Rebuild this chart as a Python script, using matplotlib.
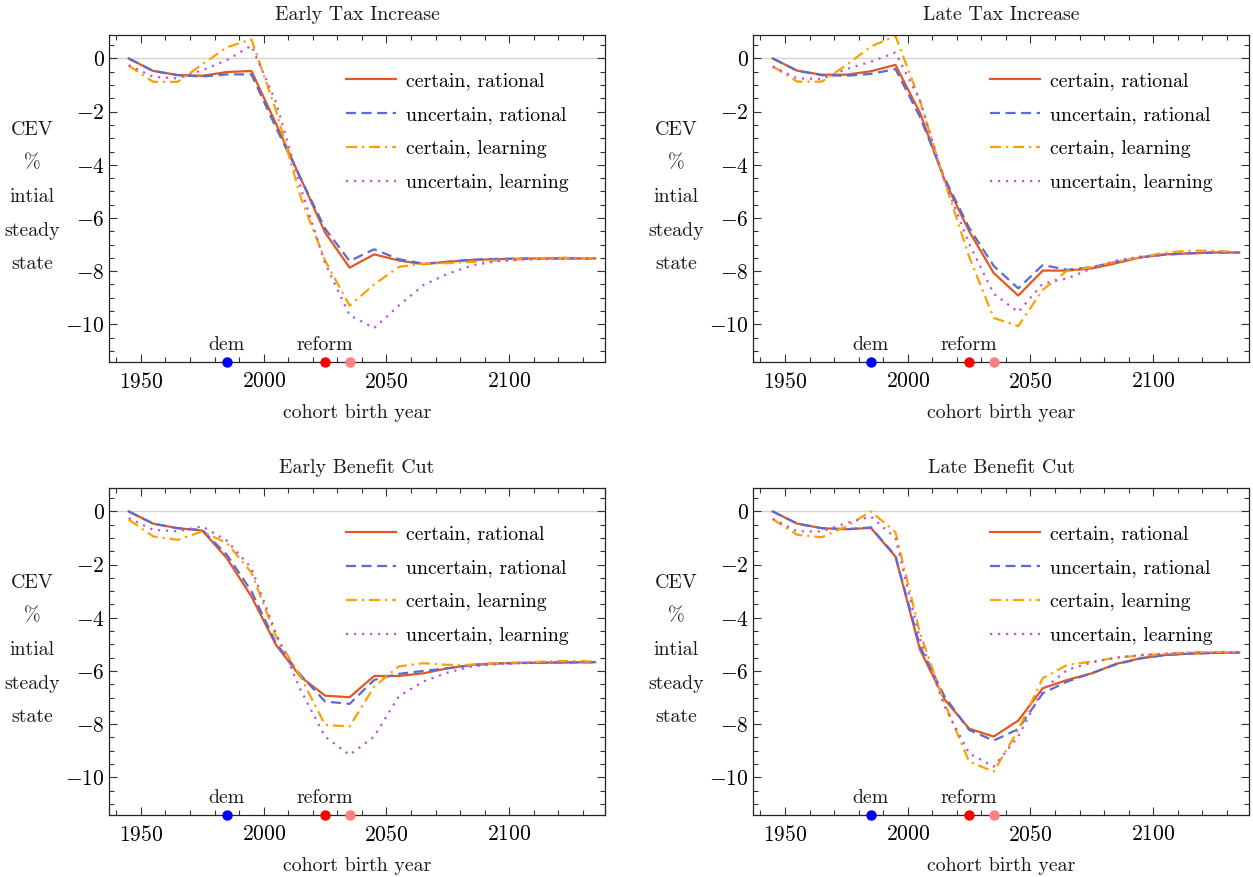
import numpy as np
import matplotlib
matplotlib.use("Agg")
import matplotlib.pyplot as plt
from matplotlib.ticker import MultipleLocator

plt.rcParams['font.family'] = 'serif'
plt.rcParams['font.serif'] = ['cmr10', 'DejaVu Serif']
plt.rcParams['mathtext.fontset'] = 'cm'
plt.rcParams['axes.formatter.use_mathtext'] = True
plt.rcParams['axes.unicode_minus'] = True

# cohort birth years (one point per decade)
years = np.arange(1945, 2136, 10)

titles = ["Early Tax Increase", "Late Tax Increase",
          "Early Benefit Cut", "Late Benefit Cut"]

labels = ["certain, rational", "uncertain, rational",
          "certain, learning", "uncertain, learning"]

# CEV in % of initial steady state, per scenario
early_tax_cr = [0, -0.47, -0.62, -0.65, -0.51, -0.47, -2.45, -4.5, -6.55, -7.87,
                -7.37, -7.6, -7.74, -7.65, -7.58, -7.55, -7.53, -7.52, -7.52, -7.52]
early_tax_ur = [0, -0.47, -0.63, -0.68, -0.6, -0.6, -2.6, -4.5, -6.4, -7.62,
                -7.18, -7.55, -7.72, -7.65, -7.57, -7.54, -7.53, -7.52, -7.52, -7.52]
early_tax_cl = [-0.27, -0.88, -0.88, -0.22, 0.42, 0.72, -1.95, -5.2, -7.6, -9.3,
                -8.5, -7.84, -7.72, -7.7, -7.65, -7.6, -7.55, -7.5, -7.5, -7.52]
early_tax_ul = [-0.25, -0.69, -0.75, -0.44, -0.06, 0.48, -1.64, -4.84, -7.7, -9.66,
                -10.14, -9.3, -8.53, -8.1, -7.78, -7.63, -7.57, -7.54, -7.53, -7.53]

late_tax_cr = [0, -0.46, -0.61, -0.61, -0.48, -0.24, -2.05, -4.57, -6.5, -8.07,
               -8.92, -7.98, -7.98, -7.9, -7.7, -7.48, -7.37, -7.33, -7.3, -7.3]
late_tax_ur = [0, -0.46, -0.63, -0.65, -0.58, -0.4, -2.2, -4.5, -6.37, -7.8,
               -8.65, -7.77, -7.95, -7.85, -7.65, -7.48, -7.38, -7.33, -7.3, -7.3]
late_tax_cl = [-0.3, -0.87, -0.87, -0.25, 0.45, 0.85, -1.6, -4.62, -7.45, -9.76,
               -10.07, -8.7, -7.98, -7.85, -7.64, -7.48, -7.3, -7.23, -7.23, -7.3]
late_tax_ul = [-0.3, -0.75, -0.77, -0.4, -0.12, 0.22, -1.58, -4.6, -6.97, -8.85,
               -9.54, -8.47, -8.27, -7.9, -7.6, -7.45, -7.38, -7.33, -7.3, -7.3]

early_ben_cr = [0, -0.46, -0.63, -0.72, -1.76, -3.2, -5.02, -6.22, -6.93, -6.99,
                -6.19, -6.19, -6.09, -5.9, -5.77, -5.71, -5.7, -5.69, -5.68, -5.67]
early_ben_ur = [0, -0.46, -0.63, -0.7, -1.63, -3.0, -4.96, -6.15, -7.15, -7.24,
                -6.34, -6.11, -6.0, -5.9, -5.78, -5.72, -5.7, -5.68, -5.68, -5.67]
early_ben_cl = [-0.31, -0.94, -1.07, -0.75, -1.19, -2.3, -4.7, -6.21, -8.03, -8.09,
                -6.59, -5.83, -5.71, -5.77, -5.77, -5.71, -5.68, -5.65, -5.62, -5.65]
early_ben_ul = [-0.25, -0.69, -0.75, -0.56, -1.1, -2.13, -4.58, -6.71, -8.47, -9.16,
                -8.47, -6.96, -6.4, -6.06, -5.83, -5.75, -5.71, -5.69, -5.68, -5.67]

late_ben_cr = [0, -0.46, -0.63, -0.67, -0.62, -1.7, -5.2, -7.07, -8.17, -8.47,
               -7.87, -6.65, -6.34, -6.09, -5.73, -5.52, -5.4, -5.35, -5.32, -5.31]
late_ben_ur = [0, -0.46, -0.63, -0.67, -0.6, -1.67, -5.08, -6.96, -8.22, -8.62,
               -8.19, -6.84, -6.4, -6.08, -5.75, -5.53, -5.4, -5.35, -5.32, -5.31]
late_ben_cl = [-0.29, -0.88, -0.97, -0.56, 0.0, -0.78, -4.58, -7.21, -9.41, -9.79,
               -8.22, -6.27, -5.77, -5.65, -5.5, -5.42, -5.35, -5.3, -5.28, -5.3]
late_ben_ul = [-0.28, -0.75, -0.75, -0.44, -0.19, -1.0, -4.8, -7.34, -9.1, -9.6,
               -8.47, -6.7, -5.96, -5.68, -5.5, -5.4, -5.35, -5.32, -5.3, -5.3]

panels = [
    [early_tax_cr, early_tax_ur, early_tax_cl, early_tax_ul],
    [late_tax_cr, late_tax_ur, late_tax_cl, late_tax_ul],
    [early_ben_cr, early_ben_ur, early_ben_cl, early_ben_ul],
    [late_ben_cr, late_ben_ur, late_ben_cl, late_ben_ul],
]

# event markers on the time axis
event_years = [1985, 2025, 2035]
event_names = ["dem", "reform", ""]
event_colors = ["#0000ff", "#ff0000", "#ff8080"]

colors = ["#e2581e", "#5b6bd2", "#ffa000", "#bb55d6"]
styles = ["-", (0, (4.5, 2.5)), (0, (5, 2.2, 1, 2.2)), (0, (1, 2.6))]

fs = 14.3
fig = plt.figure(figsize=(12.53, 8.77), dpi=100)
lefts = [0.087, 0.601]
bottoms = [0.5872, 0.0707]
w, h = 0.3958, 0.3728

for k in range(4):
    ax = fig.add_axes([lefts[k % 2], bottoms[k // 2], w, h])
    ax.axhline(0, color="#d4d4d4", lw=1.0, zorder=0)
    for s, series in enumerate(panels[k]):
        ax.plot(years, series, color=colors[s], ls=styles[s], lw=1.6,
                label=labels[s])
    ax.set_xlim(1937, 2139)
    ax.set_ylim(-11.42, 0.88)
    ax.set_xticks([1950, 2000, 2050, 2100])
    ax.xaxis.set_minor_locator(MultipleLocator(10))
    ax.set_yticks([0, -2, -4, -6, -8, -10])
    ax.yaxis.set_minor_locator(MultipleLocator(0.5))
    ax.tick_params(which="both", direction="in", top=True, right=True,
                   labelsize=15.5, width=0.8, color="#333333")
    ax.tick_params(which="major", length=6)
    ax.tick_params(which="minor", length=3.5)
    ax.tick_params(axis="x", which="major", pad=7)
    ax.tick_params(axis="y", which="major", pad=3)
    for sp in ax.spines.values():
        sp.set_linewidth(0.9)
        sp.set_color("#222222")

    for yr, name, c in zip(event_years, event_names, event_colors):
        ax.plot(yr, -11.42, "o", color=c, ms=6.5, clip_on=False, zorder=5)
        if name:
            ax.annotate(name, (yr, -11.42), xytext=(0, 6),
                        textcoords="offset points", ha="center",
                        va="bottom", fontsize=fs, color="#1a1a1a")

    ax.set_title(titles[k], fontsize=fs, pad=10.5, color="#1a1a1a")
    ax.set_xlabel("cohort birth year", fontsize=fs, labelpad=9,
                  color="#1a1a1a")
    ax.text(-0.155, 0.505, "CEV\n%\nintial\nsteady\nstate", fontsize=fs,
            ha="center", va="center", linespacing=2.13, color="#1a1a1a",
            transform=ax.transAxes)

    ax.legend(loc="upper left", bbox_to_anchor=(0.478, 0.887), frameon=False,
              fontsize=fs, handlelength=2.5, handletextpad=0.5,
              labelspacing=0.8, borderpad=0, borderaxespad=0)

fig.savefig("out.png", dpi=100)
